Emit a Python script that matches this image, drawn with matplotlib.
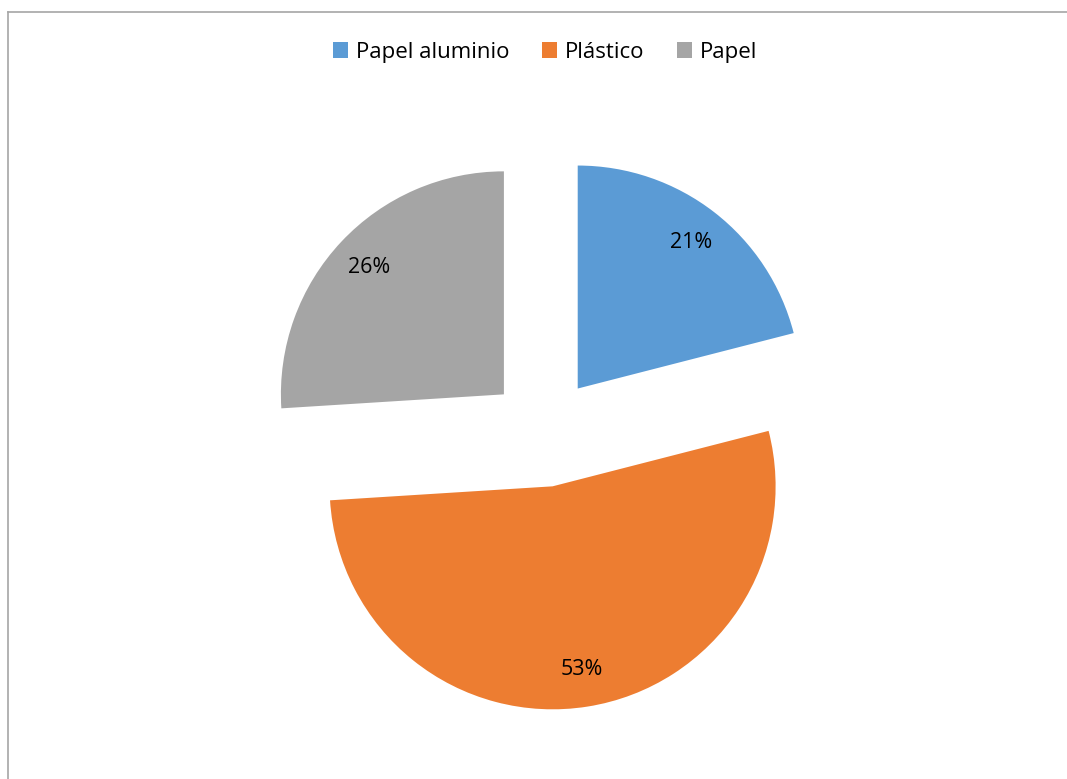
import matplotlib.pyplot as plt
from matplotlib.lines import Line2D

# datos del grafico
categorias = ['Papel aluminio', 'Plástico', 'Papel']
valores = [21, 53, 26]
colores = ['#5B9BD5', '#ED7D31', '#A5A5A5']

plt.rcParams['font.family'] = ['Open Sans', 'DejaVu Sans']

fig = plt.figure(figsize=(10.67, 7.79), dpi=100)
ax = fig.add_axes([0, 0, 1, 1])

# pie en coordenadas de pixel (explode en las mismas unidades)
cuñas, textos, pct = ax.pie(valores, colors=colores, startangle=90, counterclock=False,
                            explode=[55, 55, 55], radius=223, center=(544, 347),
                            autopct='%1.0f%%', pctdistance=0.83,
                            textprops={'fontsize': 15.5, 'color': 'black'},
                            frame=True)
ax.set_xlim(0, 1067)
ax.set_ylim(0, 779)
ax.set_aspect('equal')
ax.axis('off')

# leyenda
fig.legend(cuñas, categorias, loc='center', bbox_to_anchor=(0.511, 0.933), ncol=3,
           frameon=False, fontsize=16, handlelength=0.7, handleheight=0.7,
           handletextpad=0.35, columnspacing=1.45)

# borde del area del grafico
gris = '#A6A6A6'
fig.add_artist(Line2D([8/1067, 1.0], [1 - 12/779, 1 - 12/779], color=gris, lw=1.2,
                      transform=fig.transFigure))
fig.add_artist(Line2D([8/1067, 8/1067], [0, 1 - 12/779], color=gris, lw=1.2,
                      transform=fig.transFigure))

fig.savefig('out.png', dpi=100)
